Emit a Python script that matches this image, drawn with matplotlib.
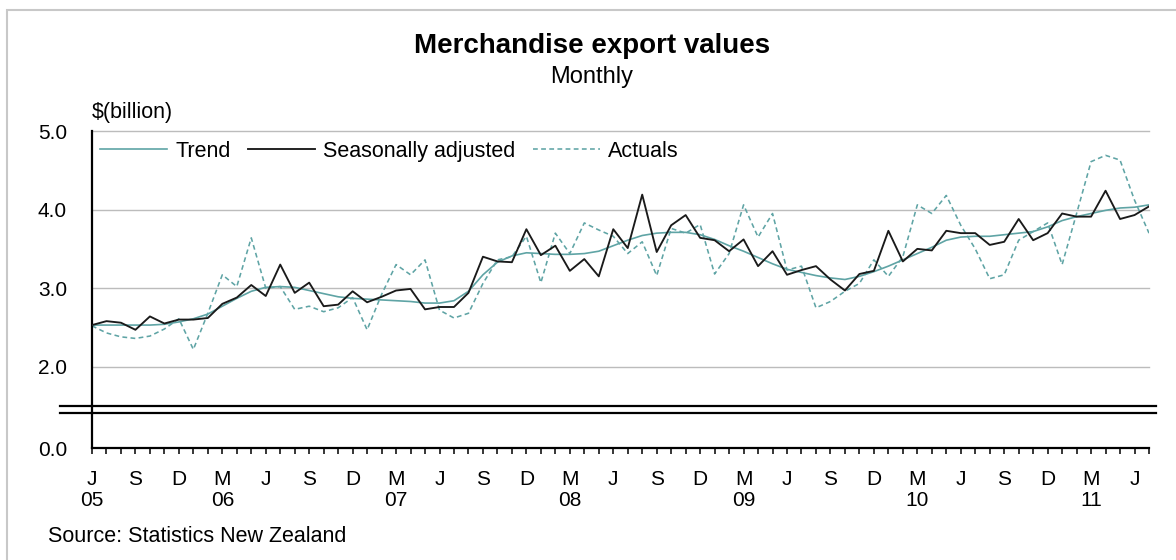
import matplotlib
matplotlib.use('Agg')
import matplotlib.pyplot as plt
from matplotlib.patches import Rectangle
from matplotlib.lines import Line2D
from matplotlib.ticker import FixedLocator, FormatStrFormatter

plt.rcParams['font.family'] = ['Liberation Sans', 'DejaVu Sans']

# ---------------- data (monthly, Jun 2005 - Jul 2011) ----------------
trend = [2.53, 2.53, 2.53, 2.53, 2.53, 2.54, 2.57, 2.61, 2.67, 2.77,
         2.87, 2.96, 3.01, 3.02, 3.01, 2.97, 2.93, 2.89, 2.87, 2.86,
         2.85, 2.84, 2.83, 2.81, 2.81, 2.84, 2.96, 3.17, 3.33, 3.41,
         3.45, 3.44, 3.43, 3.43, 3.44, 3.47, 3.54, 3.61, 3.67, 3.70,
         3.71, 3.71, 3.68, 3.62, 3.54, 3.47, 3.39, 3.31, 3.24, 3.20,
         3.16, 3.13, 3.11, 3.15, 3.21, 3.28, 3.36, 3.44, 3.52, 3.61,
         3.65, 3.66, 3.66, 3.68, 3.70, 3.72, 3.78, 3.86, 3.91, 3.95,
         3.99, 4.02, 4.03, 4.06]
seas_adj = [2.53, 2.58, 2.56, 2.47, 2.64, 2.55, 2.60, 2.60, 2.62, 2.80,
            2.88, 3.04, 2.90, 3.30, 2.94, 3.07, 2.77, 2.79, 2.96, 2.82,
            2.89, 2.97, 2.99, 2.73, 2.76, 2.76, 2.94, 3.40, 3.34, 3.33,
            3.75, 3.42, 3.54, 3.22, 3.37, 3.15, 3.75, 3.51, 4.19, 3.46,
            3.80, 3.93, 3.64, 3.61, 3.47, 3.62, 3.28, 3.47, 3.17, 3.23,
            3.28, 3.11, 2.97, 3.18, 3.22, 3.73, 3.34, 3.50, 3.48, 3.73,
            3.70, 3.70, 3.55, 3.59, 3.88, 3.61, 3.70, 3.95, 3.91, 3.91,
            4.24, 3.88, 3.93, 4.04]
actuals = [2.52, 2.43, 2.38, 2.36, 2.39, 2.48, 2.61, 2.22, 2.68, 3.17,
           3.02, 3.64, 3.00, 3.02, 2.73, 2.77, 2.70, 2.75, 2.88, 2.47,
           2.92, 3.30, 3.17, 3.36, 2.72, 2.62, 2.68, 3.06, 3.36, 3.40,
           3.66, 3.07, 3.70, 3.44, 3.83, 3.74, 3.66, 3.44, 3.59, 3.16,
           3.76, 3.70, 3.81, 3.18, 3.44, 4.06, 3.65, 3.95, 3.23, 3.28,
           2.75, 2.83, 2.96, 3.06, 3.36, 3.15, 3.40, 4.06, 3.95, 4.18,
           3.80, 3.50, 3.12, 3.17, 3.61, 3.72, 3.83, 3.30, 3.95, 4.61,
           4.69, 4.63, 4.12, 3.70]

month_letters = ['J', 'S', 'D', 'M'] * 6 + ['J']          # every 3rd month from Jun 2005
year_labels = {0: '05', 3: '06', 7: '07', 11: '08', 15: '09', 19: '10', 23: '11'}
ytick_top = [2.0, 3.0, 4.0, 5.0]
ytick_bottom = [0.0]

# ---------------- layout ----------------
W, H = 1176, 560
fig = plt.figure(figsize=(W / 100, H / 100), dpi=100)

def fx(px):
    return px / W

def fy(py):
    return 1 - py / H

X0, X1 = 92, 1149
Y5, Y15 = 131, 406           # top segment: 5.0 -> 1.5
YB_TOP, YB0 = 413, 448       # bottom segment
px_per_unit = (Y15 - Y5) / 3.5

ax = fig.add_axes([fx(X0), fy(Y15), (X1 - X0) / W, (Y15 - Y5) / H])
axb = fig.add_axes([fx(X0), fy(YB0), (X1 - X0) / W, (YB0 - YB_TOP) / H])

teal = '#5fa4a5'
n = len(trend)
xs = list(range(n))

for a in (ax, axb):
    a.set_xlim(0, n - 1)
    for s in ('top', 'right', 'bottom'):
        a.spines[s].set_visible(False)
    a.spines['left'].set_linewidth(1.6)
    a.spines['left'].set_color('black')
    a.patch.set_alpha(0)

axb.spines['bottom'].set_visible(True)
axb.spines['bottom'].set_linewidth(1.6)

ax.set_ylim(1.5, 5.0)
axb.set_ylim(0, (YB0 - YB_TOP) / px_per_unit)

# gridlines
for v in ytick_top:
    ax.axhline(v, color='#bcbcbc', lw=1.0, zorder=0, clip_on=False)

l_trend, = ax.plot(xs, trend, color=teal, lw=1.2, zorder=3)
l_sa, = ax.plot(xs, seas_adj, color='#1a1a1a', lw=1.35, zorder=4)
l_act, = ax.plot(xs, actuals, color=teal, lw=1.15, linestyle=(0, (3.0, 2.1)), zorder=2)

# y ticks
ax.yaxis.set_major_locator(FixedLocator(ytick_top))
ax.yaxis.set_major_formatter(FormatStrFormatter('%.1f'))
ax.tick_params(axis='y', length=0, pad=18, labelsize=15)
ax.set_xticks([])
axb.yaxis.set_major_locator(FixedLocator(ytick_bottom))
axb.yaxis.set_major_formatter(FormatStrFormatter('%.1f'))
axb.tick_params(axis='y', length=0, pad=18, labelsize=15)

# x ticks
major_pos = list(range(0, n, 3))
labels = []
for k, p in enumerate(major_pos):
    lab = month_letters[k]
    if k in year_labels:
        lab = lab + '\n' + year_labels[k]
    labels.append(lab)
axb.set_xticks(major_pos)
axb.set_xticklabels(labels, fontsize=15, linespacing=1.12)
axb.set_xticks(xs, minor=True)
axb.tick_params(axis='x', which='both', direction='out', length=4, width=1.1,
                color='black', pad=12)

# axis-break double lines
for yy in (406, 413):
    fig.add_artist(Line2D([fx(60), fx(1156)], [fy(yy), fy(yy)], color='black', lw=1.6))
fig.add_artist(Line2D([fx(X0), fx(X0)], [fy(406), fy(413)], color='black', lw=1.6))

# legend
ax.legend([l_trend, l_sa, l_act], ['Trend', 'Seasonally adjusted', 'Actuals'],
          loc='upper left', bbox_to_anchor=(8 / (X1 - X0), 1 - 10 / (Y15 - Y5)),
          ncol=3, frameon=False, fontsize=15.5, handlelength=3.1,
          handletextpad=0.4, columnspacing=0.8, borderpad=0, borderaxespad=0)

# texts
fig.text(fx(592), fy(53), 'Merchandise export values', fontsize=20, fontweight='bold',
         ha='center', va='baseline')
fig.text(fx(592), fy(83), 'Monthly', fontsize=17, ha='center', va='baseline')
fig.text(fx(92), fy(118), r'\$(billion)', fontsize=15.5, ha='left', va='baseline')
fig.text(fx(48), fy(542), 'Source: Statistics New Zealand', fontsize=15.5,
         ha='left', va='baseline')

# outer frame (continues past right/bottom edge)
fig.add_artist(Rectangle((fx(7), -0.5), 1.5, fy(10) + 0.5, transform=fig.transFigure,
                         fill=False, edgecolor='#c8c8c8', lw=1.5))

fig.savefig('out.png', dpi=100)
